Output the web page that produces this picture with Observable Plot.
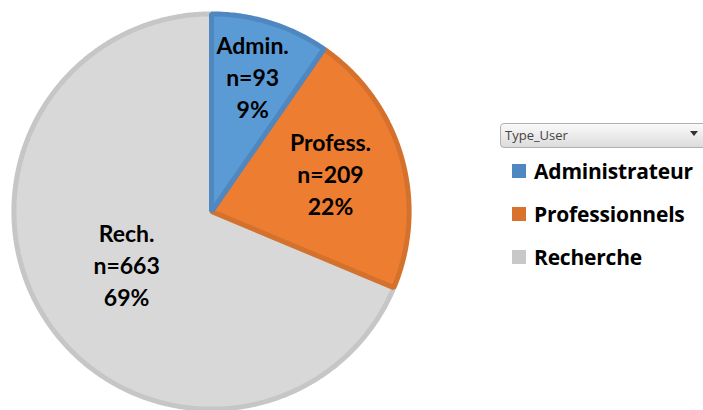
<!DOCTYPE html>
<html>
<head>
<meta charset="utf-8">
<script src="https://cdn.jsdelivr.net/npm/d3@7"></script>
<script src="https://cdn.jsdelivr.net/npm/@observablehq/plot@0.6"></script>
<style>
  body { margin: 0; background: #fff; }
  #wrap { position: relative; width: 703px; height: 410px; overflow: hidden; }
  #chart { position: absolute; left: 0; top: 0; }
  .dd { position: absolute; left: 500px; top: 123px; width: 215px; height: 25px; box-sizing: border-box;
        border: 1px solid #b0b0b0; border-radius: 4px; background: linear-gradient(#fafafa, #dcdcdc);
        font: 13px "Open Sans", sans-serif; color: #444; line-height: 23px; padding-left: 4px; }
  .arrow { position: absolute; left: 690px; top: 131px; width: 0; height: 0;
           border-left: 4px solid transparent; border-right: 4px solid transparent; border-top: 5px solid #333; }
  .item { position: absolute; left: 512px; height: 24px; display: flex; align-items: center;
          font: bold 21px "Open Sans", sans-serif; color: #000; white-space: nowrap; letter-spacing: -0.2px; }
  .sw { width: 14px; height: 14px; margin-right: 8px; }
</style>
</head>
<body>
<div id="wrap">
  <div id="chart"></div>
</div>
<script>
const categories = ["Administrateur", "Professionnels", "Recherche"];
const shortLabels = ["Admin.", "Profess.", "Rech."];
const counts = [93, 209, 663];
const percentLabels = ["9%", "22%", "69%"];
const legendTitle = "Type_User";

// styles (not data)
const fills = ["#5b9bd5", "#ed7d31", "#d8d8d8"];
const strokes = ["#4f88c0", "#d4712d", "#c6c6c6"];
const swatches = ["#4f88c0", "#d9722c", "#c8c8c8"];
const labelRadius = [0.69, 0.62, 0.51];
const R = 0.988;

const total = d3.sum(counts);
let acc = 0;
const slices = categories.map((c, i) => {
  const a0 = acc / total * 2 * Math.PI;
  acc += counts[i];
  const a1 = acc / total * 2 * Math.PI;
  return {cat: c, i, a0, a1};
});

function slicePoints(s) {
  const pts = [{x: 0, y: 0}];
  const n = Math.max(2, Math.ceil((s.a1 - s.a0) / 0.01));
  for (let k = 0; k <= n; k++) {
    const a = s.a0 + (s.a1 - s.a0) * k / n;
    pts.push({x: R * Math.sin(a), y: R * Math.cos(a)});
  }
  pts.push({x: 0, y: 0});
  return pts;
}

const labels = slices.map(s => {
  const m = (s.a0 + s.a1) / 2;
  const r = labelRadius[s.i];
  return {x: r * Math.sin(m), y: r * Math.cos(m),
          text: `${shortLabels[s.i]}\nn=${counts[s.i]}\n${percentLabels[s.i]}`};
});

const order = [2, 1, 0];
const marks = order.map(i => Plot.line(slicePoints(slices[i]), {
  x: "x", y: "y", curve: "linear-closed",
  fill: fills[i], stroke: strokes[i], strokeWidth: 5, strokeLinejoin: "miter"
}));
marks.push(Plot.text(labels, {
  x: "x", y: "y", text: "text", lineAnchor: "middle", lineHeight: 1.39, dy: -4,
  fontSize: 23, fontWeight: "bold", fill: "#000",
  fontFamily: "Lato, 'Open Sans', sans-serif"
}));

const plot = Plot.plot({
  width: 703, height: 410, margin: 0,
  x: {domain: [-1, 1], range: [11, 411], axis: null},
  y: {domain: [-1, 1], range: [411, 11], axis: null},
  style: {background: "transparent"},
  marks
});
document.getElementById("chart").appendChild(plot);

const wrap = document.getElementById("wrap");
const dd = document.createElement("div");
dd.className = "dd"; dd.textContent = legendTitle; wrap.appendChild(dd);
const ar = document.createElement("div"); ar.className = "arrow"; wrap.appendChild(ar);
categories.forEach((c, i) => {
  const it = document.createElement("div");
  it.className = "item";
  it.style.top = (159 + i * 43) + "px";
  const sw = document.createElement("div");
  sw.className = "sw"; sw.style.background = swatches[i];
  it.appendChild(sw);
  it.appendChild(document.createTextNode(c));
  wrap.appendChild(it);
});
</script>
</body>
</html>
